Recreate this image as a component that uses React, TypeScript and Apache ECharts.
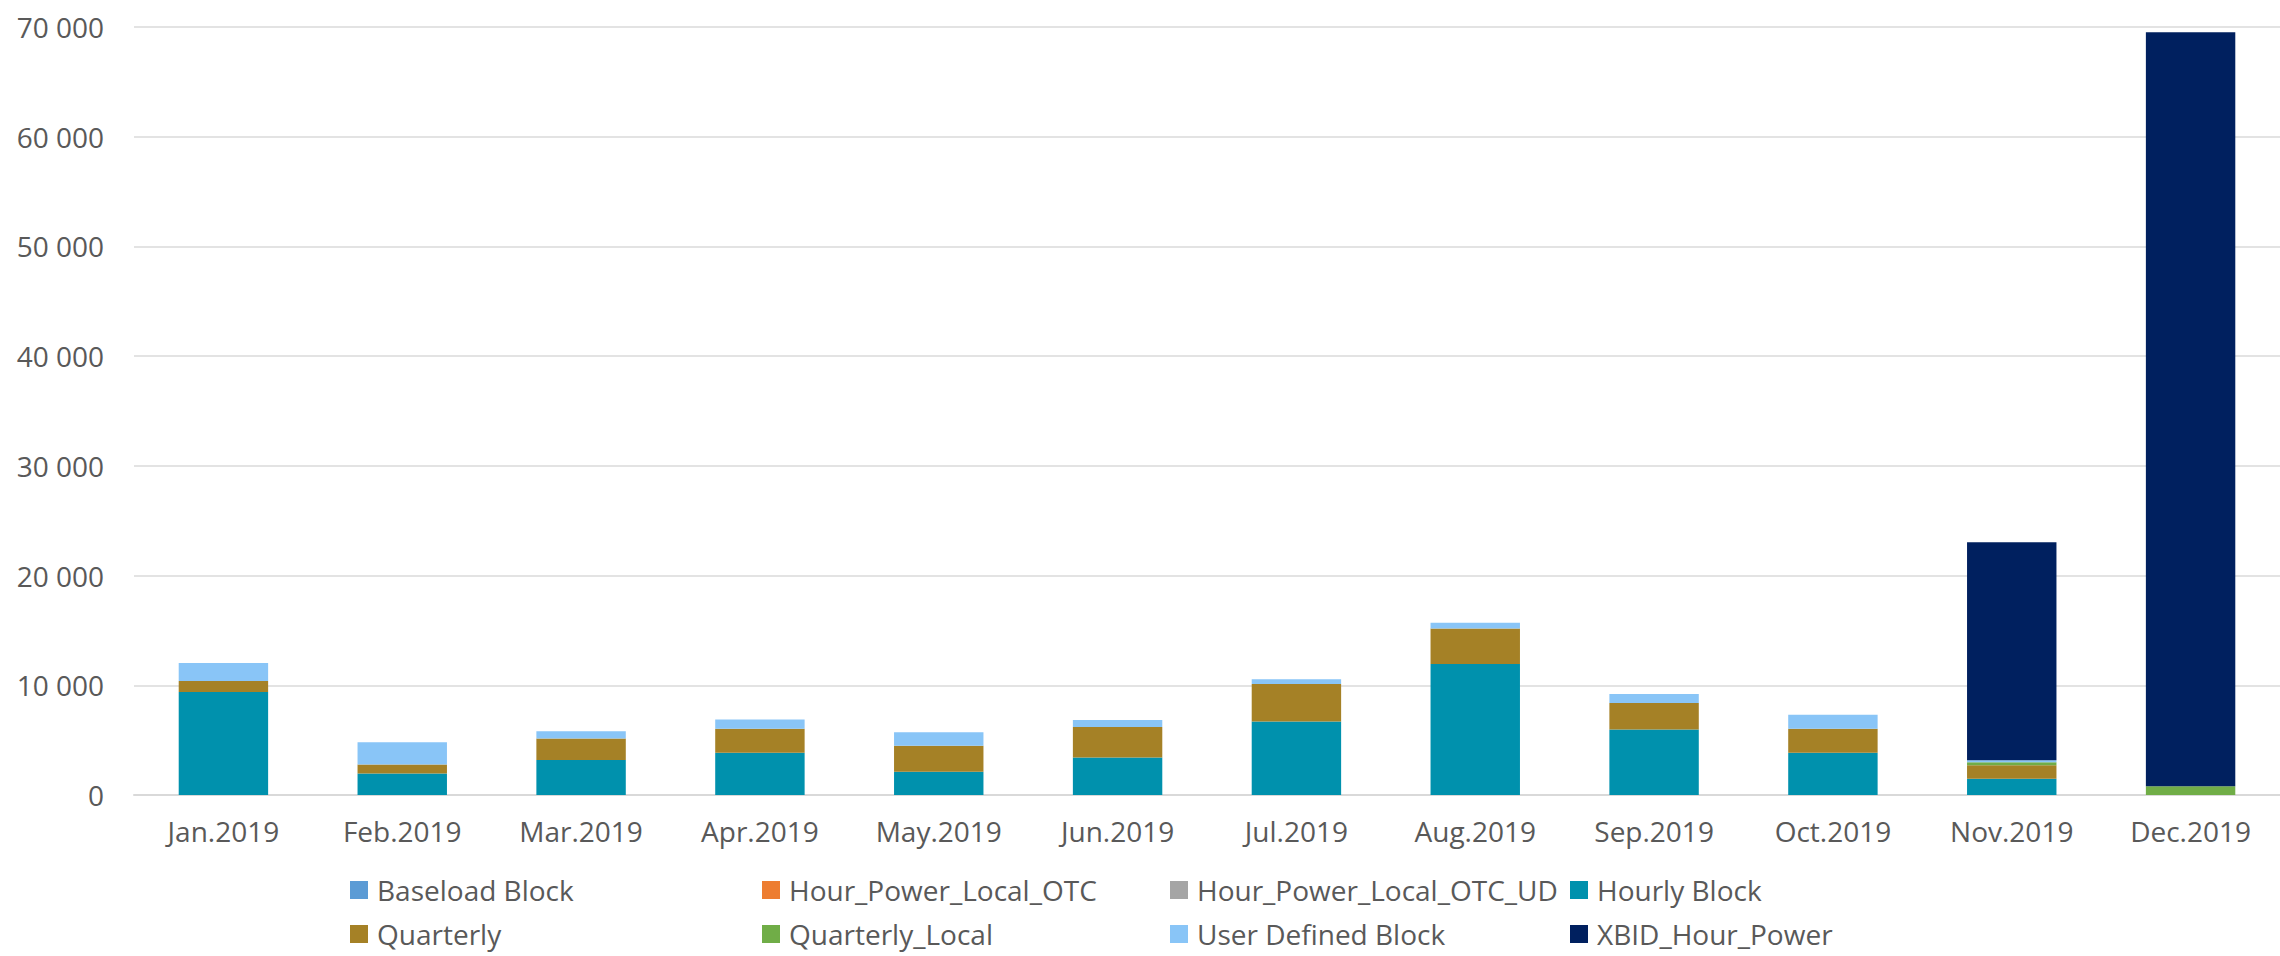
import React, { useEffect, useRef } from "react";
import * as echarts from "echarts";

const categories = ["Jan.2019", "Feb.2019", "Mar.2019", "Apr.2019", "May.2019", "Jun.2019", "Jul.2019", "Aug.2019", "Sep.2019", "Oct.2019", "Nov.2019", "Dec.2019"];

const baseloadBlock = [0, 0, 0, 0, 0, 0, 0, 0, 0, 0, 0, 0];
const hourPowerLocalOtc = [0, 0, 0, 0, 0, 0, 0, 0, 0, 0, 0, 0];
const hourPowerLocalOtcUd = [0, 0, 0, 0, 0, 0, 0, 0, 0, 0, 0, 0];
const hourlyBlock = [9390, 1950, 3200, 3840, 2130, 3420, 6710, 11950, 5980, 3840, 1490, 0];
const quarterly = [1010, 820, 1950, 2200, 2350, 2770, 3410, 3230, 2410, 2200, 1220, 0];
const quarterlyLocal = [0, 0, 0, 0, 0, 0, 0, 0, 0, 0, 270, 790];
const userDefinedBlock = [1620, 2040, 670, 850, 1250, 640, 430, 520, 820, 1280, 180, 0];
const xbidHourPower = [0, 0, 0, 0, 0, 0, 0, 0, 0, 0, 19870, 68740];

const yTicks = [0, 10000, 20000, 30000, 40000, 50000, 60000, 70000];

const seriesDefs = [
  { name: "Baseload Block", data: baseloadBlock, color: "#5B9BD5" },
  { name: "Hour_Power_Local_OTC", data: hourPowerLocalOtc, color: "#ED7D31" },
  { name: "Hour_Power_Local_OTC_UD", data: hourPowerLocalOtcUd, color: "#A5A5A5" },
  { name: "Hourly Block", data: hourlyBlock, color: "#0091AD" },
  { name: "Quarterly", data: quarterly, color: "#A58126" },
  { name: "Quarterly_Local", data: quarterlyLocal, color: "#70AD47" },
  { name: "User Defined Block", data: userDefinedBlock, color: "#89C5F7" },
  { name: "XBID_Hour_Power", data: xbidHourPower, color: "#00205F" },
];

// legend layout: column x positions and row y positions
const legendColumnsX = [350, 762, 1170, 1570];
const legendRowsY = [876, 920];

const FONT = "'Open Sans', sans-serif";
const TEXT_COLOR = "#595959";

function fmt(v: number): string {
  return String(v).replace(/\B(?=(\d{3})+(?!\d))/g, " ");
}

export default function App() {
  const ref = useRef<HTMLDivElement>(null);
  useEffect(() => {
    if (!ref.current) return;
    const chart = echarts.init(ref.current, undefined, { renderer: "svg" });
    chart.setOption({
      animation: false,
      backgroundColor: "#ffffff",
      textStyle: { fontFamily: FONT },
      grid: { left: 134, top: 27, width: 2148, height: 768, containLabel: false },
      legend: seriesDefs.map((s, i) => ({
        orient: "horizontal",
        left: legendColumnsX[i % 4],
        top: legendRowsY[Math.floor(i / 4)],
        padding: 0,
        itemWidth: 18,
        itemHeight: 18,
        icon: "rect",
        data: [s.name],
        selectedMode: false,
        textStyle: { fontFamily: FONT, fontSize: 28, color: TEXT_COLOR, lineHeight: 28, padding: [0, 0, 0, 4] },
      })),
      xAxis: {
        type: "category",
        data: categories,
        axisTick: { show: false },
        axisLine: { lineStyle: { color: "#d9d9d9", width: 2 } },
        axisLabel: { fontFamily: FONT, fontSize: 28, color: TEXT_COLOR, margin: 22 },
      },
      yAxis: {
        type: "value",
        min: yTicks[0],
        max: yTicks[yTicks.length - 1],
        interval: yTicks[1] - yTicks[0],
        axisLine: { show: false },
        axisTick: { show: false },
        splitLine: { lineStyle: { color: "#e3e3e3", width: 2 } },
        axisLabel: { fontFamily: FONT, fontSize: 28, color: TEXT_COLOR, margin: 30, formatter: (v: number) => fmt(v) },
      },
      series: seriesDefs.map((s) => ({
        name: s.name,
        type: "bar",
        stack: "total",
        data: s.data,
        barWidth: "50%",
        itemStyle: { color: s.color },
      })),
    });
    return () => chart.dispose();
  }, []);
  return <div ref={ref} style={{ position: "fixed", left: 0, top: 0, width: 2280, height: 956 }} />;
}
